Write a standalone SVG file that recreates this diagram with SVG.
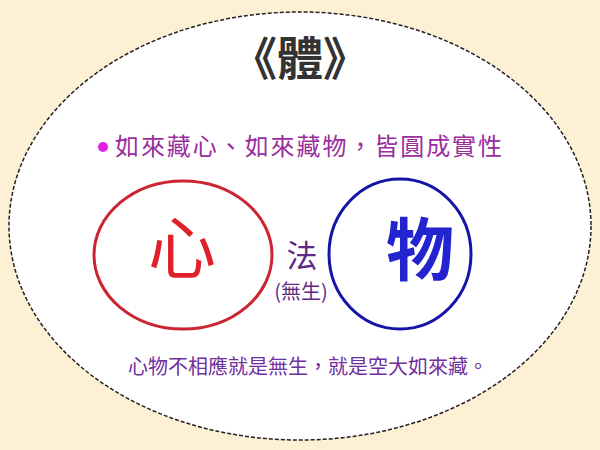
<svg xmlns="http://www.w3.org/2000/svg" width="600" height="450" viewBox="0 0 600 450" xml:lang="zh-TW" lang="zh-TW">
<style>
.cjk{font-family:"Noto Sans CJK TC","Noto Sans CJK SC",sans-serif;}
</style>
<rect width="600" height="450" fill="#fdf0d5"/>
<g id="frame">
<ellipse cx="300" cy="226" rx="291" ry="214" fill="#ffffff" stroke="#222" stroke-width="1.5" stroke-dasharray="4 2"/>
</g>
<g id="title">
<text class="cjk" x="300" y="75" text-anchor="middle" font-size="46" font-weight="bold" fill="#333333">《體》</text>
</g>
<g id="subtitle">
<circle cx="103" cy="147" r="5" fill="#e020e0"/>
<text class="cjk" x="115" y="155" font-size="24" fill="#9a2e9e" textLength="387" lengthAdjust="spacing">如來藏心、如來藏物，皆圓成實性</text>
</g>
<g id="node-xin">
<ellipse cx="183" cy="255" rx="89" ry="74" fill="none" stroke="#cc2433" stroke-width="3"/>
<text class="cjk" x="182" y="273" text-anchor="middle" font-size="68" fill="#e0202a">心</text>
</g>
<g id="node-wu">
<ellipse cx="400" cy="254" rx="71" ry="75" fill="none" stroke="#1414a8" stroke-width="3"/>
<text class="cjk" x="420" y="275" text-anchor="middle" font-size="68" font-weight="bold" fill="#2323d0">物</text>
</g>
<g id="node-fa">
<text class="cjk" x="302" y="267" text-anchor="middle" font-size="31" fill="#5e2a86">法</text>
<text class="cjk" x="301" y="299" text-anchor="middle" font-size="20" fill="#5e2a86">(無生)</text>
</g>
<g id="connectors"></g>
<g id="caption">
<text class="cjk" x="128" y="374" font-size="20" fill="#7030a0">心物不相應就是無生，就是空大如來藏。</text>
</g>
</svg>
